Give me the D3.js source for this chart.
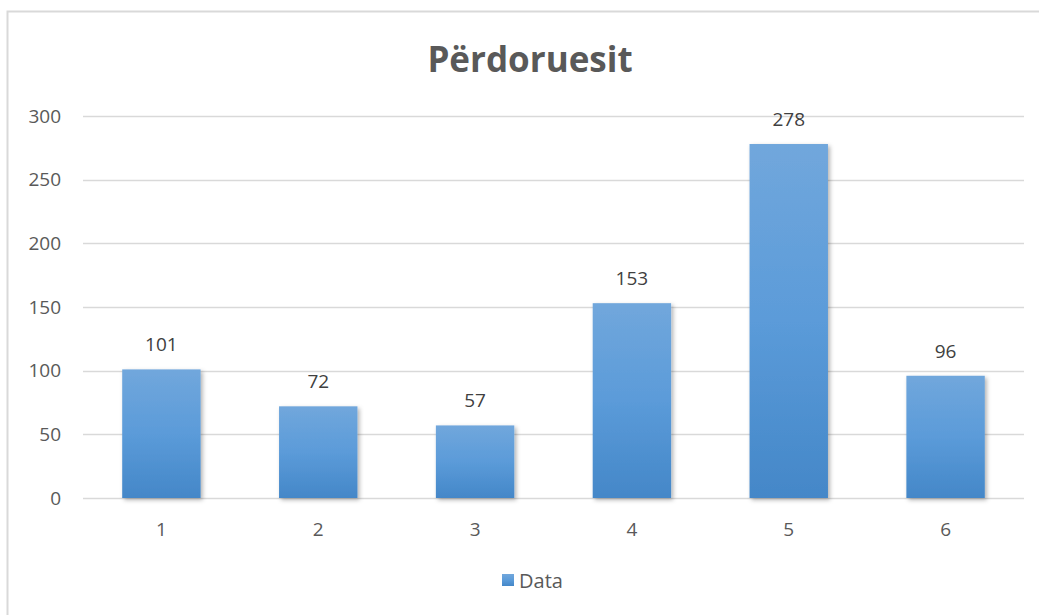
<!DOCTYPE html>
<html>
<head>
<meta charset="utf-8">
<script src="https://cdn.jsdelivr.net/npm/d3@7"></script>
<style>
  body { margin: 0; background: #fff; }
  svg { display: block; font-family: "Open Sans", "Noto Sans", sans-serif; }
</style>
</head>
<body>
<svg width="1039" height="615"></svg>
<script>
// chart data
const categories = ["1", "2", "3", "4", "5", "6"];
const values = [101, 72, 57, 153, 278, 96];
const yTicks = [0, 50, 100, 150, 200, 250, 300];
const title = "Përdoruesit";
const seriesName = "Data";

const svg = d3.select("svg");

// outer chart border
svg.append("rect")
  .attr("x", 7.5).attr("y", 11.5)
  .attr("width", 1040).attr("height", 620)
  .attr("fill", "none")
  .attr("stroke", "#d9d9d9")
  .attr("stroke-width", 2);

const margin = { left: 83, right: 1024, top: 116, bottom: 498 };

const x = d3.scaleBand()
  .domain(categories)
  .range([margin.left, margin.right])
  .paddingInner(0.5)
  .paddingOuter(0.25);

const y = d3.scaleLinear()
  .domain([0, 300])
  .range([margin.bottom, margin.top]);

// gradient + shadow for bars
const defs = svg.append("defs");
const grad = defs.append("linearGradient")
  .attr("id", "barGrad")
  .attr("x1", 0).attr("y1", 0).attr("x2", 0).attr("y2", 1);
grad.append("stop").attr("offset", "0%").attr("stop-color", "#71a7dc");
grad.append("stop").attr("offset", "50%").attr("stop-color", "#5b9bd9");
grad.append("stop").attr("offset", "100%").attr("stop-color", "#4487c8");

const shadow = defs.append("filter")
  .attr("id", "shadow")
  .attr("x", "-20%").attr("y", "-10%").attr("width", "140%").attr("height", "130%");
shadow.append("feDropShadow")
  .attr("dx", 2).attr("dy", 2).attr("stdDeviation", 2)
  .attr("flood-color", "#000").attr("flood-opacity", 0.3);

// gridlines
svg.append("g")
  .selectAll("line")
  .data(yTicks)
  .enter()
  .append("line")
  .attr("x1", margin.left)
  .attr("x2", margin.right)
  .attr("y1", d => Math.round(y(d)) + 0.5)
  .attr("y2", d => Math.round(y(d)) + 0.5)
  .attr("stroke", "#d9d9d9")
  .attr("stroke-width", 1.3);

// y axis labels
const yAxis = d3.axisLeft(y).tickValues(yTicks).tickSize(0).tickPadding(0);
const gy = svg.append("g")
  .attr("transform", `translate(61,0)`)
  .call(yAxis);
gy.select(".domain").remove();
gy.selectAll("text")
  .attr("fill", "#595959")
  .style("font-size", "19px")
  .style("font-family", "'Open Sans', 'Noto Sans', sans-serif");

// x axis labels
const xAxis = d3.axisBottom(x).tickSize(0).tickPadding(0);
const gx = svg.append("g")
  .attr("transform", `translate(0,${margin.bottom + 24})`)
  .call(xAxis);
gx.select(".domain").remove();
gx.selectAll("text")
  .attr("fill", "#595959")
  .style("font-size", "19px")
  .style("font-family", "'Open Sans', 'Noto Sans', sans-serif");

// bars
svg.append("g")
  .selectAll("rect")
  .data(values)
  .enter()
  .append("rect")
  .attr("x", (d, i) => x(categories[i]))
  .attr("y", d => y(d))
  .attr("width", x.bandwidth())
  .attr("height", d => y(0) - y(d))
  .attr("fill", "url(#barGrad)")
  .attr("filter", "url(#shadow)");

// value labels
svg.append("g")
  .selectAll("text")
  .data(values)
  .enter()
  .append("text")
  .attr("x", (d, i) => x(categories[i]) + x.bandwidth() / 2)
  .attr("y", d => y(d) - 18)
  .attr("text-anchor", "middle")
  .attr("fill", "#404040")
  .style("font-size", "19px")
  .text(d => d);

// title
svg.append("text")
  .attr("x", 530)
  .attr("y", 72)
  .attr("text-anchor", "middle")
  .attr("fill", "#595959")
  .style("font-size", "35px")
  .style("font-weight", "bold")
  .text(title);

// legend
svg.append("rect")
  .attr("x", 502).attr("y", 574)
  .attr("width", 12).attr("height", 12)
  .attr("fill", "url(#barGrad)");
svg.append("text")
  .attr("x", 519).attr("y", 588)
  .attr("fill", "#595959")
  .style("font-size", "20px")
  .text(seriesName);
</script>
</body>
</html>
